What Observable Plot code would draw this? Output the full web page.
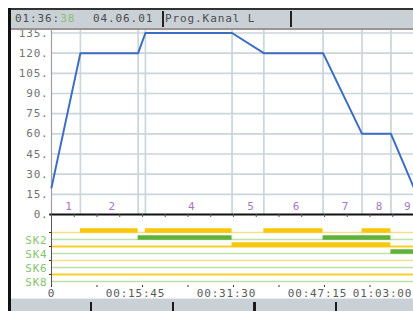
<!DOCTYPE html>
<html><head><meta charset="utf-8">
<script src="https://cdn.jsdelivr.net/npm/d3@7"></script>
<script src="https://cdn.jsdelivr.net/npm/@observablehq/plot@0.6"></script>
<style>
html,body{margin:0;padding:0;background:#fff;}
#wrap{position:relative;width:413px;height:311px;overflow:hidden;background:#fff;font-family:"DejaVu Sans Mono",monospace;}
#wrap svg{position:absolute;left:0;top:0;max-width:none;}
#wrap svg text{letter-spacing:0.8px;}
.hdr{position:absolute;left:10px;top:8px;width:403px;height:18px;background:#c9d1d7;border-top:2px solid #333;border-bottom:2px solid #9c9494;z-index:2;}
.hdr span{position:absolute;top:2px;font-size:11px;letter-spacing:0.9px;color:#4c4c4c;line-height:14px;}
.div{position:absolute;top:1px;width:2px;height:16px;background:#222;}
.strip{position:absolute;left:8px;top:8px;width:3px;height:303px;background:#111;z-index:3;}
.ftr{position:absolute;left:11px;top:298px;width:402px;height:13px;background:#c9d1d7;border-top:1px solid #e6eaed;z-index:2;}
.fd{position:absolute;top:3px;width:2px;height:11px;background:#1a1a1a;}
</style>
</head><body>
<div id="wrap">
  <div class="strip"></div>
  <div class="hdr" id="hdr"></div>
  <div class="ftr" id="ftr"></div>
</div>
<script>
// ---- data ----
const headerClock = "01:36:";
const headerClockSec = "38";
const headerDate = "04.06.01";
const headerProg = "Prog.Kanal L";

const segNames = ["1","2","3","4","5","6","7","8","9"];
const segEnds  = [5, 15, 16.25, 31.25, 36.75, 47, 53.75, 58.75, 63.5]; // minutes

const profTime = [0, 5, 15, 16.25, 31.25, 36.75, 47, 53.75, 58.75, 63];
const profTemp = [20, 120, 120, 135, 135, 120, 120, 60, 60, 17];

const yTicks = [0, 15, 30, 45, 60, 75, 90, 105, 120, 135];
const timeTicks = [0, 15.75, 31.5, 47.25, 63]; // minutes

const channels = ["SK1","SK2","SK3","SK4","SK5","SK6","SK7","SK8"];
const onChannel = ["SK1","SK1","SK1","SK1","SK2","SK2","SK3","SK4"];
const onStart   = [5, 16.25, 36.75, 53.75, 15, 47, 31.25, 58.75];
const onEnd     = [15, 31.25, 47, 58.75, 31.25, 58.75, 58.75, 63.5];

// ---- derived tables ----
const profile = profTime.map((t, i) => ({t, v: profTemp[i]}));
const segs = segNames.map((n, i) => {
  const s = i === 0 ? 0 : segEnds[i - 1];
  return {name: n, start: s, end: segEnds[i], mid: (s + segEnds[i]) / 2};
}).filter(d => d.end - d.start > 3);
const bars = onChannel.map((c, i) => ({ch: c, start: onStart[i], end: onEnd[i], odd: channels.indexOf(c) % 2 === 0}));
const fmtTime = m => {
  if (m === 0) return "0";
  const s = Math.round(m * 60);
  const p = x => String(x).padStart(2, "0");
  return `${p(Math.floor(s / 3600))}:${p(Math.floor(s / 60) % 60)}:${p(s % 60)}`;
};

const W = 451, ML = 51, MR = 36, XD = [0, 63];
const grid = "#cad5dc";
const purple = "#a678c8";
const greenTxt = "#86c46a";

// ---- header / footer ----
const hdr = document.getElementById("hdr");
hdr.innerHTML = `<span style="left:5px">${headerClock}<span style="position:static;color:#8cc070">${headerClockSec}</span></span>
<span style="left:83px">${headerDate}</span>
<div class="div" style="left:152px"></div>
<span style="left:155px">${headerProg}</span>
<div class="div" style="left:280px"></div>`;
const ftr = document.getElementById("ftr");
[79, 161, 242, 324].forEach((x, i) => {
  const d = document.createElement("div");
  d.className = "fd"; d.style.left = x + "px"; if (i === 2) d.style.width = "3px";
  ftr.appendChild(d);
});

// ---- main chart ----
const main = Plot.plot({
  width: W, height: 232, marginLeft: ML, marginRight: MR, marginTop: 29, marginBottom: 18,
  x: {domain: XD, label: null},
  y: {domain: [0, 137.6], label: null},
  style: {background: "transparent", fontFamily: "DejaVu Sans Mono", fontSize: "11px"},
  marks: [
    Plot.ruleY(yTicks.filter(d => d > 0), {x1: 0, x2: 63.5, stroke: grid, strokeWidth: 1.7}),
    Plot.ruleX(segEnds.slice(0, -1), {y1: 0, y2: 137.6, stroke: grid, strokeWidth: 1.7}),
    Plot.ruleX([0], {y1: 0, y2: 137.6, stroke: "#a0a0a0", strokeWidth: 1.2}),
    Plot.text(segs, {x: "mid", y: 6, text: "name", fill: purple, fontSize: 11, dx: 3}),
    Plot.line(profile, {x: "t", y: "v", stroke: "#3b6ec2", strokeWidth: 2}),
    Plot.ruleY([0], {x1: -0.3, x2: 63.5, stroke: "#111", strokeWidth: 2}),
    Plot.axisY(yTicks, {tickSize: 0, tickPadding: 3, tickFormat: d => d + ".", color: "#737373", fontSize: 11, label: null}),
    Plot.axisX(d3.range(0, 64, 3.9375), {tickSize: 3, tickFormat: () => "", color: "#555", label: null})
  ]
});

// ---- channel chart ----
const sk = Plot.plot({
  width: W, height: 311, marginLeft: ML, marginRight: MR, marginTop: 214, marginBottom: 26,
  x: {domain: XD, label: null},
  y: {type: "point", domain: channels, range: [230.7, 281.7], padding: 0, label: null},
  style: {background: "transparent", fontFamily: "DejaVu Sans Mono", fontSize: "11px"},
  marks: [
    Plot.ruleY(["SK1", "SK5"], {x1: 0, x2: 63.5, stroke: "#f7e08a", strokeWidth: 1.4}),
    Plot.ruleY(["SK3", "SK7"], {x1: 0, x2: 63.5, stroke: "#f8cf2a", strokeWidth: 2.2}),
    Plot.ruleY(["SK2", "SK4", "SK6", "SK8"], {x1: 0, x2: 63.5, stroke: "#bfe0a8", strokeWidth: 1.4}),
    Plot.ruleY(bars.filter(d => d.odd), {y: "ch", x1: "start", x2: "end", stroke: "#f7c80a", strokeWidth: 4.5, dy: -2}),
    Plot.ruleY(bars.filter(d => !d.odd), {y: "ch", x1: "start", x2: "end", stroke: "#5fb13a", strokeWidth: 4.5, dy: -2}),
    Plot.ruleX([0], {stroke: "#555", strokeWidth: 1}),
    Plot.axisY(["SK2", "SK4", "SK6", "SK8"], {tickSize: 0, tickPadding: 4, color: greenTxt, fontSize: 11, label: null, dy: 1}),
    Plot.axisY(["SK1", "SK3", "SK5", "SK7"], {tickSize: 2, tickFormat: () => "", color: "#333", label: null}),
    Plot.axisX(d3.range(0, 64, 7.875), {tickSize: 2, tickFormat: () => "", color: "#333", label: null}),
    Plot.axisX([timeTicks[0]], {tickSize: 0, tickPadding: 4, tickFormat: fmtTime, color: "#5a5a5a", fontSize: 11, label: null}),
    Plot.axisX(timeTicks.slice(1, 4), {tickSize: 0, tickPadding: 4, tickFormat: fmtTime, color: "#5a5a5a", fontSize: 11, label: null, dx: -7}),
    Plot.axisX([timeTicks[4]], {tickSize: 0, tickPadding: 4, tickFormat: fmtTime, color: "#5a5a5a", fontSize: 11, label: null, dx: -33})
  ]
});

const wrap = document.getElementById("wrap");
wrap.insertBefore(sk, wrap.firstChild);
wrap.insertBefore(main, wrap.firstChild);
</script>
</body></html>
